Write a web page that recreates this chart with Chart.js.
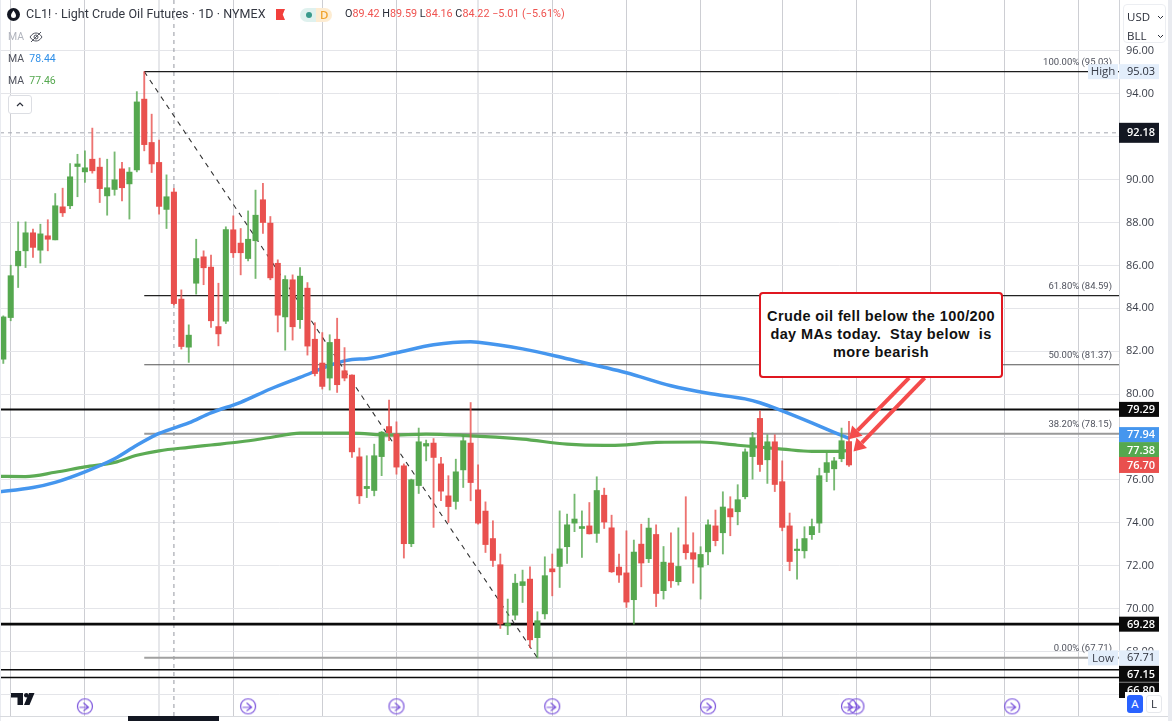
<!DOCTYPE html>
<html>
<head>
<meta charset="utf-8">
<title>CL1! Light Crude Oil Futures</title>
<script src="https://cdn.jsdelivr.net/npm/chart.js@4/dist/chart.umd.js"></script>
<style>
    html, body { margin: 0; padding: 0; background: #fff; overflow: hidden; }
    #stage { position: relative; width: 1172px; height: 721px; font-family: "Open Sans", sans-serif; color: #2a2e39; }
    #chart { position: absolute; left: 0; top: 0; }
    .abs { position: absolute; white-space: pre; line-height: 1; }
    .title { left: 26px; top: 8px; font: 12.5px/1 Roboto, sans-serif; color: #333741; letter-spacing: 0.05px; }
    .ohlc { left: 345px; top: 9px; font: 10.8px/1 Roboto, sans-serif; color: #ef5350; }
    .ohlc b { font-weight: 400; color: #2a2e39; }
    .ma { left: 8px; font: 10.5px/1 Roboto, sans-serif; color: #50535e; }
    .ma.off { color: #b2b5be; }
    .flag { left: 276px; top: 9px; width: 9px; height: 11px; background: #f23f3c; clip-path: polygon(0 0, 100% 0, 75% 50%, 100% 100%, 0 100%); }
    .pill { left: 300px; top: 8px; width: 32px; height: 14px; border-radius: 7px; background: linear-gradient(90deg, #dff1ee 0 50%, #fdecd2 50% 100%); }
    .dot { left: 306px; top: 12px; width: 6px; height: 6px; border-radius: 50%; background: #3a9a8c; }
    .pill-d { left: 320px; top: 9px; font-size: 11.5px; font-weight: 600; color: #f0a22e; }
    .collapse { left: 8px; top: 95px; width: 22px; height: 17px; border: 1px solid #dcdee3; border-radius: 3px; background: #fff; }
    .units { left: 1123px; top: 4px; width: 43px; height: 39px; border: 1px solid #eceef2; border-radius: 4px; background: #fff; box-sizing: border-box; }
    .units span { position: absolute; left: 3px; font-size: 11.5px; color: #2a2e39; }
    .callout { left: 759px; top: 292px; width: 244px; height: 86px; box-sizing: border-box; border: 2px solid #e01720; border-radius: 4px; background: #fff;
        font: bold 14.5px/18px "Liberation Sans", Arial, sans-serif; color: #111; text-align: center; padding-top: 13px; letter-spacing: 0.4px; }
    .btn { top: 695px; width: 16px; height: 18px; border-radius: 3px; font-size: 11.5px; text-align: center; line-height: 18px; box-sizing: border-box; }
    .btn.a { left: 1127px; background: #2962ff; color: #fff; }
    .btn.l { left: 1146px; background: #fff; color: #2a2e39; border: 1px solid #e6e8ec; line-height: 16px; }
</style>
</head>
<body>
<div id="stage">
    <canvas id="chart" width="1172" height="721"></canvas>

    <svg class="abs" style="left:7px;top:8px" width="13" height="13" viewBox="0 0 13 13"><circle cx="6.5" cy="6.5" r="6.5" fill="#131722"/><path d="M6.5 2.4C5 4.6 4 5.9 4 7.4a2.5 2.5 0 0 0 5 0C9 5.900 8 4.6 6.5 2.4z" fill="#fff"/></svg>
    <div class="abs title">CL1! · Light Crude Oil Futures · 1D · NYMEX</div>
    <div class="abs flag"></div>
    <div class="abs pill"></div>
    <div class="abs dot"></div>
    <div class="abs pill-d">D</div>
    <div class="abs ohlc"><b>O</b>89.42 <b>H</b>89.59 <b>L</b>84.16 <b>C</b>84.22 −5.01 (−5.61%)</div>

    <div class="abs ma off" style="top:32px">MA</div>
    <svg class="abs" style="left:29px;top:30px" width="14" height="14" viewBox="0 0 14 14" fill="none" stroke="#50535e" stroke-width="1"><path d="M1 7c2-3 4-4 6-4s4 1 6 4c-2 3-4 4-6 4S3 10 1 7z"/><circle cx="7" cy="7" r="2"/><path d="M2 12L12 2"/></svg>
    <div class="abs ma" style="top:54px">MA  <span style="color:#2f8fe8">78.44</span></div>
    <div class="abs ma" style="top:76px">MA  <span style="color:#55a84f">77.46</span></div>
    <div class="abs collapse"><svg style="position:absolute;left:6px;top:4px" width="10" height="8" viewBox="0 0 10 8" fill="none" stroke="#2a2e39" stroke-width="1.2"><path d="M2 6l3-3 3 3"/></svg></div>

    <div class="abs units">
        <span style="top:6px">USD</span>
        <span style="top:25px">BLL</span>
        <svg style="position:absolute;left:33px;top:10px" width="7" height="5" viewBox="0 0 7 5" fill="none" stroke="#2a2e39"><path d="M1 1l2.500 2.500L6 1"/></svg>
        <svg style="position:absolute;left:33px;top:29px" width="7" height="5" viewBox="0 0 7 5" fill="none" stroke="#2a2e39"><path d="M1 1l2.500 2.500L6 1"/></svg>
    </div>

    <div class="abs callout">Crude oil fell below the 100/200
day MAs today.  Stay below  is
more bearish</div>

    <div class="abs btn a">A</div>
    <div class="abs btn l">L</div>
</div>

<script>
// Daily candles, one entry per bar
const opens = [81.63, 83.57, 85.98, 86.68, 87.52, 86.71, 87.38, 87.19, 88.73, 88.78,
    90.61, 90.36, 90.95, 90.58, 89.24, 89.54, 90.50, 89.80, 90.45, 93.75,
    91.73, 90.80, 88.61, 89.42, 84.43, 82.19, 85.17, 86.40, 85.92, 83.15,
    83.40, 87.66, 87.04, 86.32, 87.15, 89.06, 87.97, 86.10, 83.60, 85.33,
    83.47, 84.94, 82.56, 81.45, 80.75, 82.56, 81.09, 80.89, 77.08, 75.60,
    75.51, 77.09, 78.49, 78.14, 76.66, 73.03, 75.74, 77.58, 77.72, 76.75,
    75.26, 75.00, 76.47, 77.72, 75.54, 74.55, 73.27, 72.05, 69.20, 69.70,
    71.08, 71.38, 68.65, 69.76, 71.86, 71.97, 72.89, 73.99, 73.74, 73.86,
    73.51, 75.29, 73.77, 71.94, 71.67, 70.42, 73.01, 72.33, 73.46, 70.84,
    72.13, 71.26, 72.98, 72.61, 71.94, 72.65, 73.86, 73.54, 74.66, 74.52,
    75.22, 77.09, 78.87, 76.94, 77.78, 75.92, 73.86, 72.71, 72.70, 73.45,
    73.99, 76.35, 76.52, 76.99, 77.79];
const highs = [83.65, 86.01, 88.03, 88.03, 87.69, 87.92, 88.13, 89.35, 89.60, 90.75,
    91.18, 91.34, 92.40, 91.00, 90.95, 91.29, 90.80, 90.56, 94.10, 95.03,
    93.05, 91.84, 90.22, 89.59, 84.86, 83.23, 87.22, 86.68, 86.48, 85.17,
    87.80, 88.31, 87.72, 88.54, 89.51, 89.83, 88.28, 86.26, 85.52, 85.56,
    85.90, 85.20, 83.33, 82.87, 82.77, 83.54, 82.17, 80.90, 77.49, 77.13,
    77.67, 78.26, 79.72, 78.71, 76.75, 76.04, 78.42, 77.86, 77.93, 77.05,
    76.20, 76.97, 78.11, 79.61, 76.71, 74.98, 74.10, 72.55, 70.45, 71.61,
    71.80, 71.95, 69.86, 72.42, 72.55, 74.56, 74.41, 75.34, 74.56, 74.95,
    76.15, 75.62, 74.36, 72.55, 73.63, 73.20, 73.94, 74.22, 73.91, 72.90,
    73.54, 73.77, 75.22, 73.54, 72.89, 74.14, 74.60, 75.45, 75.22, 75.78,
    77.45, 78.22, 79.22, 78.11, 78.11, 76.89, 74.46, 73.25, 73.82, 74.18,
    76.55, 77.28, 77.05, 78.42, 78.73];
const lows = [81.43, 83.42, 84.97, 85.90, 86.37, 86.11, 86.68, 87.19, 88.28, 88.65,
    89.20, 89.87, 90.30, 88.93, 88.34, 89.27, 89.01, 88.16, 90.36, 91.34,
    90.33, 88.39, 87.72, 84.16, 82.10, 81.48, 84.66, 85.10, 83.11, 82.25,
    83.29, 86.37, 85.56, 86.21, 85.39, 87.49, 85.33, 82.90, 82.05, 82.52,
    83.06, 81.82, 80.85, 80.24, 80.19, 80.08, 80.62, 77.05, 74.90, 75.18,
    75.26, 76.20, 77.83, 76.27, 72.36, 72.89, 75.37, 76.89, 73.79, 75.03,
    74.02, 74.64, 75.65, 75.03, 73.94, 72.62, 71.97, 69.08, 68.79, 69.48,
    70.29, 68.19, 67.71, 69.52, 70.60, 70.99, 72.11, 73.59, 72.39, 73.48,
    73.09, 73.74, 71.69, 71.22, 70.06, 69.28, 71.02, 72.15, 70.10, 70.45,
    70.99, 71.10, 72.31, 71.19, 70.45, 72.05, 72.93, 72.55, 73.40, 73.91,
    75.12, 76.04, 76.40, 75.84, 75.46, 73.63, 71.77, 71.38, 72.36, 73.23,
    73.55, 75.92, 75.53, 76.85, 76.63];
const closes = [83.60, 85.52, 86.66, 87.52, 86.84, 87.47, 87.22, 88.78, 88.45, 90.13,
    90.73, 90.55, 90.41, 89.58, 89.62, 89.99, 89.62, 90.35, 93.62, 91.63,
    90.73, 88.75, 89.20, 84.22, 82.22, 82.75, 86.32, 85.89, 83.42, 82.81,
    87.67, 86.59, 86.59, 87.22, 88.34, 88.00, 85.42, 83.68, 85.34, 83.14,
    85.50, 82.24, 80.96, 80.36, 82.41, 80.44, 80.75, 77.31, 75.26, 75.70,
    77.13, 78.23, 78.20, 76.60, 73.03, 76.01, 77.78, 77.70, 77.05, 75.48,
    74.76, 76.38, 77.83, 75.88, 73.99, 72.99, 72.25, 69.29, 69.31, 71.19,
    71.26, 68.55, 69.44, 71.54, 71.72, 72.79, 73.91, 74.18, 73.83, 73.49,
    75.51, 74.04, 71.72, 71.57, 70.31, 72.64, 72.13, 73.76, 70.71, 72.17,
    71.30, 71.97, 72.61, 72.31, 72.53, 73.91, 73.17, 74.74, 74.28, 75.08,
    77.31, 77.97, 76.72, 77.78, 75.79, 73.79, 72.20, 72.75, 73.27, 73.83,
    76.20, 76.81, 76.89, 77.83, 76.70];

// Moving averages, read at the bars where the curve bends
const ma100Bars = [-1, 4, 7, 11, 15, 18, 21, 25, 28, 32, 36, 40, 45, 47, 49, 53, 58, 63, 64, 70, 76, 84, 90, 95, 100, 102, 105, 109, 112, 114];
const ma100Values = [75.43, 75.65, 75.89, 76.38, 76.99, 77.62, 78.17, 78.66, 79.13, 79.62, 80.24, 80.78, 81.46, 81.62, 81.65, 81.93, 82.30, 82.44, 82.42, 82.11, 81.65, 81.00, 80.39, 80.04, 79.78, 79.60, 79.22, 78.66, 78.22, 77.94];
const ma200Bars = [-1, 3, 7, 11, 15, 18, 21, 25, 28, 32, 36, 40, 47, 52, 57, 62, 70, 76, 81, 84, 88, 94, 99, 105, 109, 112, 114];
const ma200Values = [76.17, 76.16, 76.36, 76.61, 76.82, 77.15, 77.36, 77.52, 77.63, 77.78, 77.98, 78.18, 78.18, 78.09, 78.14, 78.08, 77.90, 77.67, 77.61, 77.64, 77.75, 77.77, 77.62, 77.44, 77.33, 77.33, 77.38];

// Fibonacci retracement and hand drawn levels
const fibLabels = ['100.00%', '61.80%', '50.00%', '38.20%', '0.00%'];
const fibPrices = [95.03, 84.59, 81.37, 78.15, 67.71];
const levelPrices = [79.29, 69.28, 67.15, 66.80];
const fibStartBar = 19;
const fibEndBar = 72;
const crosshairBar = 23;
const crosshairPrice = 92.18;

// Axes
const priceTicks = [96, 94, 92, 90, 88, 86, 84, 82, 80, 78, 76, 74, 72, 70, 68, 66];
const gridBars = [1, 11, 21, 31, 43, 53, 64, 74, 84, 94, 105, 115, 125, 135, 145];
const wideGridBars = [21, 64];
const eventBars = [11, 33, 53, 74, 95, 114, 115, 136];
const eventPrice = 65.45;

const barMin = -0.445;
const barMax = 150.4;
const priceMin = 65.0;
const priceMax = 98.37;

const RED = '#e9504e';
const GREEN = '#55a84f';
const lastBar = opens.length;

function isUp(i) {
    return closes[i] >= opens[i];
}

// Horizontal segment as a two point line dataset
function levelDataset(price, fromBar, color, width, dash) {
    return {
        type: 'line',
        data: [{ x: fromBar, y: price }, { x: barMax, y: price }],
        borderColor: color,
        borderWidth: width,
        borderDash: dash || [],
        pointRadius: 0,
        order: 5
    };
}

function maDataset(bars, values, color, width) {
    return {
        type: 'line',
        data: bars.map((bar, i) => ({ x: bar, y: values[i] })),
        borderColor: color,
        borderWidth: width,
        cubicInterpolationMode: 'monotone',
        pointRadius: 0,
        order: 3
    };
}

// Small round marker used for the dividend / event row
function makeEventIcon() {
    const icon = document.createElement('canvas');
    icon.width = 18;
    icon.height = 18;
    const c = icon.getContext('2d');
    c.strokeStyle = '#7a52dc';
    c.lineWidth = 1.2;
    c.beginPath();
    c.arc(9, 9, 7.5, 0, Math.PI * 2);
    c.stroke();
    c.beginPath();
    c.moveTo(3.5, 10);
    c.lineTo(12, 10);
    c.moveTo(7.5, 5.5);
    c.lineTo(12.5, 10);
    c.lineTo(7.5, 13.5);
    c.stroke();
    return icon;
}

const fibColors = ['#1c1c1c', '#222', '#555', '#999', '#a0a0a0'];
const fibWidths = [1.2, 1.1, 1.1, 2, 2];
const levelWidths = [2, 2.6, 1.5, 1.5];

const candles = Array.from({ length: lastBar }, (_, i) => i);

const datasets = [
    ...fibPrices.map((price, i) => levelDataset(price, fibStartBar, fibColors[i], fibWidths[i])),
    ...levelPrices.map((price, i) => levelDataset(price, barMin, '#0b0b0b', levelWidths[i])),
    levelDataset(crosshairPrice, barMin, '#a3a6af', 1, [4, 4]),
    {
        type: 'line',
        data: [{ x: crosshairBar, y: priceMin }, { x: crosshairBar, y: priceMax }],
        borderColor: '#9598a1',
        borderWidth: 1,
        borderDash: [4, 4],
        pointRadius: 0,
        order: 6
    },
    {
        type: 'line',
        data: [{ x: fibStartBar, y: fibPrices[0] }, { x: fibEndBar, y: fibPrices[4] }],
        borderColor: '#333',
        borderWidth: 1.1,
        borderDash: [5, 5],
        pointRadius: 0,
        order: 4
    },
    maDataset(ma100Bars, ma100Values, '#4596ee', 3.5),
    maDataset(ma200Bars, ma200Values, '#5cab54', 3.2),
    {
        type: 'bar',
        data: candles.map(i => ({ x: i, y: [lows[i], highs[i]] })),
        backgroundColor: candles.map(i => (isUp(i) ? 'rgba(85,168,79,0.8)' : 'rgba(233,80,78,0.8)')),
        barThickness: 1.2,
        grouped: false,
        order: 2
    },
    {
        type: 'bar',
        data: candles.map(i => ({ x: i, y: [opens[i], closes[i]] })),
        backgroundColor: candles.map(i => (isUp(i) ? GREEN : RED)),
        barThickness: 5.4,
        minBarLength: 1.5,
        grouped: false,
        order: 1
    },
    {
        type: 'line',
        showLine: false,
        data: eventBars.map(bar => ({ x: bar, y: eventPrice })),
        pointStyle: makeEventIcon(),
        clip: false,
        order: 0
    }
];

// Arrows from the note down to the last candle, in bar / price units
const arrowFromBars = [122.1, 124.2];
const arrowFromPrices = [80.76, 80.76];
const arrowToBars = [114, 114.6];
const arrowToPrices = [77.90, 77.33];

function drawArrow(ctx, x0, y0, x1, y1) {
    const angle = Math.atan2(y1 - y0, x1 - x0);
    const head = 14;
    const neckX = x1 - Math.cos(angle) * (head - 2);
    const neckY = y1 - Math.sin(angle) * (head - 2);
    ctx.strokeStyle = '#f44c4c';
    ctx.fillStyle = '#f44c4c';
    ctx.lineWidth = 4;
    ctx.beginPath();
    ctx.moveTo(x0, y0);
    ctx.lineTo(neckX, neckY);
    ctx.stroke();
    ctx.beginPath();
    ctx.moveTo(x1, y1);
    ctx.lineTo(x1 - head * Math.cos(angle - 0.55), y1 - head * Math.sin(angle - 0.55));
    ctx.lineTo(x1 - head * Math.cos(angle + 0.55), y1 - head * Math.sin(angle + 0.55));
    ctx.closePath();
    ctx.fill();
}

function drawTag(ctx, y, text, bg, fg, height) {
    ctx.fillStyle = bg;
    ctx.fillRect(1119, y - height / 2, 40, height);
    ctx.fillStyle = fg;
    ctx.font = (fg === '#fff' ? '600 ' : '') + '11px "Open Sans", sans-serif';
    ctx.textAlign = 'center';
    ctx.textBaseline = 'middle';
    ctx.fillText(text, 1141, y + 0.5);
}

function drawSideLabel(ctx, y, text) {
    ctx.fillStyle = '#e3eefb';
    ctx.fillRect(1088, y - 7.5, 30, 15);
    ctx.fillStyle = '#3a3e49';
    ctx.font = '11.5px "Open Sans", sans-serif';
    ctx.textAlign = 'center';
    ctx.textBaseline = 'middle';
    ctx.fillText(text, 1103, y + 0.5);
}

const overlayPlugin = {
    id: 'overlay',
    afterDraw(chart) {
        const { ctx, scales } = chart;
        const py = scales.y;
        const bx = scales.x;
        ctx.save();

        // Percent captions of the retracement
        ctx.font = '9.5px Roboto, sans-serif';
        ctx.fillStyle = '#50535e';
        ctx.textAlign = 'right';
        ctx.textBaseline = 'middle';
        fibPrices.forEach((price, i) => {
            ctx.fillText(fibLabels[i] + ' (' + price.toFixed(2) + ')', 1112, py.getPixelForValue(price) - 9);
        });

        drawSideLabel(ctx, py.getPixelForValue(95.03), 'High');
        drawSideLabel(ctx, py.getPixelForValue(67.71), 'Low');

        // Price tags stack on top of the tick labels
        drawTag(ctx, py.getPixelForValue(95.03), '95.03', '#e3eefb', '#2a2e39', 15);
        drawTag(ctx, py.getPixelForValue(92.18), '92.18', '#131722', '#fff', 20);
        drawTag(ctx, py.getPixelForValue(79.29), '79.29', '#0b0b0b', '#fff', 15);
        drawTag(ctx, py.getPixelForValue(77.94) - 3.5, '77.94', '#4596ee', '#fff', 15.5);
        drawTag(ctx, py.getPixelForValue(77.38) - 0.5, '77.38', GREEN, '#fff', 15.5);
        drawTag(ctx, py.getPixelForValue(76.70), '76.70', RED, '#fff', 16);
        drawTag(ctx, py.getPixelForValue(69.28), '69.28', '#0b0b0b', '#fff', 15);
        drawTag(ctx, py.getPixelForValue(67.71), '67.71', '#e3eefb', '#2a2e39', 15);
        drawTag(ctx, py.getPixelForValue(66.80) + 13, '66.80', '#0b0b0b', '#fff', 16);
        drawTag(ctx, py.getPixelForValue(67.15) + 4, '67.15', '#0b0b0b', '#fff', 16);

        // Corner buttons cover the lowest tag
        ctx.fillStyle = '#fff';
        ctx.fillRect(1125, 692, 43, 24);
        ctx.fillRect(1119, 698, 6, 18);

        // Side strips and the bottom edge of the pane
        ctx.fillStyle = '#e9ebf0';
        ctx.fillRect(1168, 0, 4, 721);
        ctx.fillRect(0, 0, 1, 721);
        ctx.fillStyle = '#d8dade';
        ctx.fillRect(0, 716, 1168, 1);
        ctx.fillStyle = '#131722';
        ctx.fillRect(128, 716, 91, 5);

        // TradingView mark
        ctx.fillStyle = '#131722';
        ctx.fillRect(11, 693, 12, 4.5);
        ctx.fillRect(17.5, 693, 5.5, 12);
        ctx.beginPath();
        ctx.arc(26.3, 695.3, 2.3, 0, Math.PI * 2);
        ctx.fill();
        ctx.beginPath();
        ctx.moveTo(29, 693);
        ctx.lineTo(34.5, 693);
        ctx.lineTo(29.5, 705);
        ctx.lineTo(24, 705);
        ctx.closePath();
        ctx.fill();

        // Note arrows
        arrowFromBars.forEach((bar, i) => {
            drawArrow(ctx, bx.getPixelForValue(bar), py.getPixelForValue(arrowFromPrices[i]),
                bx.getPixelForValue(arrowToBars[i]), py.getPixelForValue(arrowToPrices[i]));
        });
        ctx.restore();
    }
};

new Chart(document.getElementById('chart'), {
    type: 'bar',
    data: { datasets },
    plugins: [overlayPlugin],
    options: {
        responsive: false,
        devicePixelRatio: 1,
        animation: false,
        events: [],
        layout: { autoPadding: false, padding: { left: 0, right: 0, top: 0, bottom: 5 } },
        plugins: { legend: { display: false }, tooltip: { enabled: false } },
        scales: {
            x: {
                type: 'linear',
                min: barMin,
                max: barMax,
                offset: false,
                afterBuildTicks: scale => { scale.ticks = gridBars.map(value => ({ value })); },
                afterFit: scale => { scale.paddingLeft = 0; scale.paddingRight = 0; },
                ticks: { display: false },
                border: { display: false },
                grid: {
                    offset: false,
                    drawTicks: false,
                    lineWidth: ctx => (ctx.tick && wideGridBars.includes(ctx.tick.value) ? 2 : 1),
                    color: ctx => (ctx.tick && wideGridBars.includes(ctx.tick.value) ? '#e6e7ea' : '#cdced3')
                }
            },
            y: {
                type: 'linear',
                position: 'right',
                min: priceMin,
                max: priceMax,
                afterBuildTicks: scale => { scale.ticks = priceTicks.map(value => ({ value })); },
                afterFit: scale => { scale.width = 53; scale.paddingTop = 0; scale.paddingBottom = 0; },
                ticks: {
                    autoSkip: false,
                    padding: 7,
                    color: '#3a3e49',
                    font: { family: '"Open Sans", sans-serif', size: 11 },
                    callback: value => (value === 66 ? '' : value.toFixed(2))
                },
                border: { color: '#d0d2d7' },
                grid: { drawTicks: false, color: '#e4e5e9' }
            }
        }
    }
});
</script>
</body>
</html>
